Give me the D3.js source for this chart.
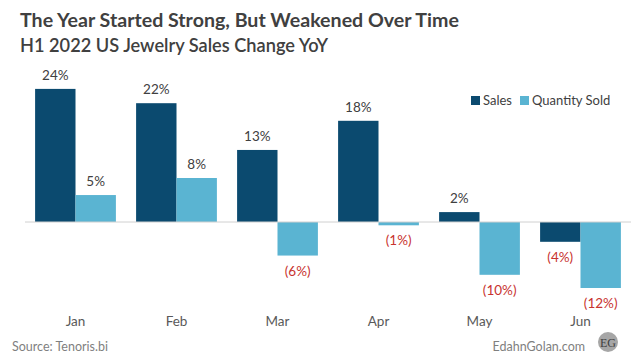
<!DOCTYPE html>
<html>
<head>
<meta charset="utf-8">
<script src="https://cdn.jsdelivr.net/npm/d3@7"></script>
<style>
  body { margin: 0; background: #fff; }
  svg { font-family: Lato, "Open Sans", sans-serif; }
</style>
</head>
<body>
<svg></svg>
<script>
// данные
const months = ["Jan", "Feb", "Mar", "Apr", "May", "Jun"];
const sales = [24.2, 21.6, 13.1, 18.4, 1.8, -3.6];
const quantity = [4.9, 8.0, -6.1, -0.6, -9.6, -12.0];
const seriesNames = ["Sales", "Quantity Sold"];
const colors = ["#0b4a6f", "#5ab4d2"];

document.addEventListener("DOMContentLoaded", function() {
    const width = 643;
    const height = 358;
    const svg = d3.select("svg")
        .attr("width", width)
        .attr("height", height);

    // заголовки
    svg.append("text")
        .attr("x", 20).attr("y", 27)
        .attr("font-size", 19.6).attr("font-weight", "bold")
        .attr("fill", "#404040")
        .text("The Year Started Strong, But Weakened Over Time");
    svg.append("text")
        .attr("x", 20).attr("y", 52)
        .attr("font-size", 18.2).attr("font-weight", 600)
        .attr("fill", "#404040")
        .text("H1 2022 US Jewelry Sales Change YoY");

    // шкалы
    const x0 = d3.scaleBand()
        .domain(months)
        .range([25, 631])
        .paddingInner(0.2)
        .paddingOuter(0.1);
    const x1 = d3.scaleBand()
        .domain([0, 1])
        .range([0, x0.bandwidth()]);
    const y = d3.scaleLinear()
        .domain([-12, 24])
        .range([288, 90]);

    const fmt = v => v >= 0 ? `${Math.round(v)}%` : `(${Math.round(-v)}%)`;
    const rows = months.map((m, i) => ({ month: m, vals: [sales[i], quantity[i]] }));

    const groups = svg.append("g").selectAll("g")
        .data(rows)
        .join("g")
        .attr("transform", d => `translate(${x0(d.month)},0)`);

    groups.selectAll("rect")
        .data(d => d.vals)
        .join("rect")
        .attr("x", (v, j) => x1(j))
        .attr("width", x1.bandwidth())
        .attr("y", v => y(Math.max(0, v)))
        .attr("height", v => Math.abs(y(v) - y(0)))
        .attr("fill", (v, j) => colors[j]);

    groups.selectAll("text")
        .data(d => d.vals)
        .join("text")
        .attr("x", (v, j) => x1(j) + x1.bandwidth() / 2)
        .attr("y", v => v >= 0 ? y(v) - 9 : y(v) + 20)
        .attr("text-anchor", "middle")
        .attr("font-size", 13.5)
        .attr("fill", v => v >= 0 ? "#404040" : "#c8332f")
        .text(fmt);

    // ось
    svg.append("line")
        .attr("x1", 25).attr("x2", 631)
        .attr("y1", y(0)).attr("y2", y(0))
        .attr("stroke", "#d0d0d0").attr("stroke-width", 1);

    const xAxis = svg.append("g")
        .attr("transform", "translate(0,310)")
        .call(d3.axisBottom(x0).tickSize(0).tickPadding(6));
    xAxis.select(".domain").remove();
    xAxis.selectAll("text")
        .attr("font-family", "Lato, sans-serif")
        .attr("font-size", 13.5)
        .attr("fill", "#595959");

    // легенда
    const legendX = [471, 520];
    const legend = svg.append("g").selectAll("g")
        .data(seriesNames)
        .join("g")
        .attr("transform", (d, i) => `translate(${legendX[i]},96)`);
    legend.append("rect")
        .attr("width", 9).attr("height", 9)
        .attr("fill", (d, i) => colors[i]);
    legend.append("text")
        .attr("x", 12).attr("y", 9)
        .attr("font-size", 13)
        .attr("fill", "#404040")
        .text(d => d);

    // подписи
    svg.append("text")
        .attr("x", 12).attr("y", 351)
        .attr("font-size", 12.5).attr("fill", "#7f7f7f")
        .text("Source: Tenoris.bi");
    svg.append("text")
        .attr("x", 585).attr("y", 351)
        .attr("text-anchor", "end")
        .attr("font-size", 12.5).attr("fill", "#7f7f7f")
        .text("EdahnGolan.com");
    svg.append("circle")
        .attr("cx", 608).attr("cy", 342).attr("r", 10)
        .attr("fill", "#a6a6a6");
    svg.append("text")
        .attr("x", 608).attr("y", 346.5)
        .attr("text-anchor", "middle")
        .attr("font-family", "Liberation Serif, serif")
        .attr("font-size", 12).attr("fill", "#404040")
        .text("EG");
});
</script>
</body>
</html>
